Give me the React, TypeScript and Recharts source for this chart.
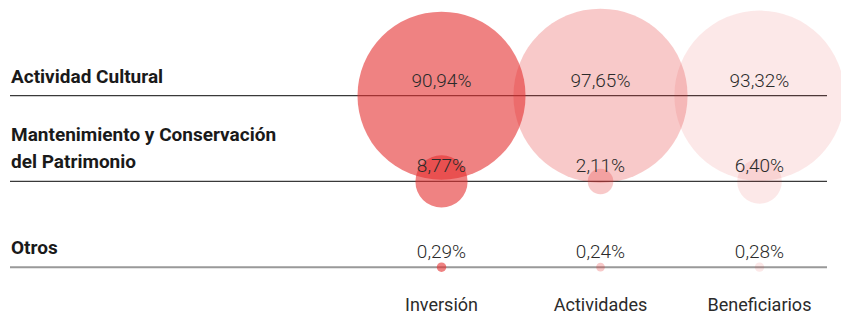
import React from "react";
import {
  ScatterChart,
  Scatter,
  XAxis,
  YAxis,
  ZAxis,
  ReferenceLine,
  LabelList,
} from "recharts";

// Row categories (top to bottom)
const rowLabels: string[] = [
  "Actividad Cultural",
  "Mantenimiento y Conservación\ndel Patrimonio",
  "Otros",
];

// Column metrics (left to right)
const columnLabels: string[] = ["Inversión", "Actividades", "Beneficiarios"];

// Percent values per column, one entry per row
const inversion: number[] = [90.94, 8.77, 0.29];
const actividades: number[] = [97.65, 2.11, 0.24];
const beneficiarios: number[] = [93.32, 6.4, 0.28];

const seriesValues = [inversion, actividades, beneficiarios];
const seriesOpacity = [0.6, 0.26, 0.11];
const BASE_RED = "#E52E2E";
const FONT = "Roboto, 'Noto Sans', sans-serif";

const rowIdx = rowLabels.map((_, i) => i);
const colIdx = columnLabels.map((_, i) => i);

const buildSeries = (vals: number[], col: number) =>
  vals.map((v, row) => ({ x: col, y: row, z: v }));

const fmt = (v: number) => v.toFixed(2).replace(".", ",") + "%";

const PctLabel = (props: any) => {
  const { x, y, width, height, value } = props;
  const cx = Number(x) + Number(width) / 2;
  const cy = Number(y) + Number(height) / 2;
  return (
    <text
      x={cx}
      y={cy - 9}
      textAnchor="middle"
      fontFamily={FONT}
      fontSize={19}
      fontWeight={300}
      fill="#2b2b2b"
    >
      {fmt(Number(value))}
    </text>
  );
};

const makeRowLabel = (label: string) => (props: any) => {
  const vb = props.viewBox || {};
  const lines = label.split("\n");
  const n = lines.length;
  return (
    <text
      x={Number(vb.x) + 1}
      y={Number(vb.y) - 13}
      fontFamily={FONT}
      fontSize={19}
      fontWeight={700}
      fill="#1a1a1a"
    >
      {lines.map((ln, i) => (
        <tspan key={i} x={Number(vb.x) + 1} dy={i === 0 ? -(n - 1) * 27 : 27}>
          {ln}
        </tspan>
      ))}
    </text>
  );
};

const XTick = (props: any) => {
  const { x, y, payload } = props;
  return (
    <text
      x={x}
      y={y}
      dy={-7}
      textAnchor="middle"
      fontFamily={FONT}
      fontSize={18}
      fill="#2b2b2b"
    >
      {columnLabels[payload.value]}
    </text>
  );
};

export default function App() {
  return (
    <div style={{ position: "absolute", left: 0, top: 0, background: "#fff" }}>
      <ScatterChart
        width={841}
        height={315}
        margin={{ top: 10, right: 14, bottom: 0, left: 10 }}
      >
        <XAxis
          type="number"
          dataKey="x"
          domain={[-2.714, 2.4245]}
          ticks={colIdx}
          tick={<XTick />}
          axisLine={false}
          tickLine={false}
          height={5}
          interval={0}
        />
        <YAxis
          type="number"
          dataKey="y"
          domain={[-1, 2.5]}
          reversed
          hide
          width={0}
          ticks={rowIdx}
        />
        <ZAxis
          type="number"
          dataKey="z"
          domain={[0, 100]}
          range={[0, Math.PI * 88.1 * 88.1]}
        />
        {seriesValues.map((vals, ci) => (
          <Scatter
            key={columnLabels[ci]}
            name={columnLabels[ci]}
            data={buildSeries(vals, ci)}
            fill={BASE_RED}
            fillOpacity={seriesOpacity[ci]}
            isAnimationActive={false}
          >
            <LabelList dataKey="z" content={<PctLabel />} />
          </Scatter>
        ))}
        {rowIdx.map((r) => (
          <ReferenceLine
            key={r}
            y={r}
            stroke={r === rowIdx.length - 1 ? "#999999" : "#3a3a3a"}
            strokeWidth={r === rowIdx.length - 1 ? 2 : 1.3}
            label={makeRowLabel(rowLabels[r])}
            ifOverflow="extendDomain"
          />
        ))}
      </ScatterChart>
    </div>
  );
}
